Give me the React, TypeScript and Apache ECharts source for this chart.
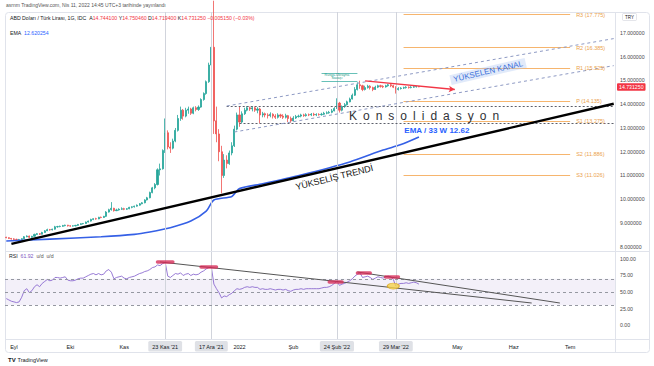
import { useEffect, useRef } from 'react';
import * as echarts from 'echarts';

// ---------- categories (weekday bars) ----------
const FIRST_DAY = '2021-08-27';
const BAR_COUNT = 238;
function weekdays(start: string, n: number): string[] {
  const out: string[] = [];
  const d = new Date(start + 'T00:00:00Z');
  while (out.length < n) {
    const wd = d.getUTCDay();
    if (wd !== 0 && wd !== 6) out.push(d.toISOString().slice(0, 10));
    d.setUTCDate(d.getUTCDate() + 1);
  }
  return out;
}
const dates = weekdays(FIRST_DAY, BAR_COUNT);

// ---------- daily candles [open, high, low, close] ----------
const ohlc: number[][] = [
  [8.40, 8.42, 8.36, 8.38], [8.38, 8.40, 8.33, 8.35], [8.35, 8.37, 8.30, 8.33], [8.33, 8.36, 8.29, 8.31], [8.31, 8.34, 8.28, 8.30],
  [8.30, 8.33, 8.27, 8.30], [8.30, 8.36, 8.29, 8.34], [8.34, 8.45, 8.33, 8.42], [8.42, 8.48, 8.40, 8.45], [8.45, 8.47, 8.37, 8.40],
  [8.40, 8.46, 8.38, 8.44], [8.44, 8.55, 8.43, 8.52], [8.52, 8.58, 8.50, 8.55], [8.55, 8.57, 8.50, 8.53], [8.53, 8.63, 8.52, 8.60],
  [8.60, 8.70, 8.59, 8.67], [8.67, 8.76, 8.66, 8.72], [8.72, 8.75, 8.68, 8.71], [8.71, 8.76, 8.69, 8.74], [8.74, 8.88, 8.72, 8.84],
  [8.84, 8.88, 8.80, 8.85], [8.85, 8.89, 8.82, 8.86], [8.86, 8.92, 8.84, 8.89], [8.89, 8.93, 8.86, 8.91], [8.91, 8.92, 8.85, 8.88],
  [8.88, 8.90, 8.84, 8.87], [8.87, 8.90, 8.85, 8.88], [8.88, 8.92, 8.86, 8.90], [8.90, 8.96, 8.88, 8.94], [8.94, 8.99, 8.92, 8.97],
  [8.97, 9.00, 8.94, 8.98], [8.98, 9.06, 8.97, 9.04], [9.04, 9.10, 9.02, 9.08], [9.08, 9.18, 9.06, 9.15], [9.15, 9.20, 9.12, 9.18],
  [9.18, 9.22, 9.14, 9.17], [9.17, 9.26, 9.16, 9.24], [9.24, 9.27, 9.20, 9.23], [9.23, 9.30, 9.21, 9.28], [9.28, 9.50, 9.25, 9.46],
  [9.46, 9.60, 9.44, 9.56], [9.56, 9.88, 9.52, 9.62], [9.62, 9.64, 9.48, 9.52], [9.52, 9.60, 9.50, 9.55], [9.55, 9.62, 9.52, 9.58],
  [9.58, 9.66, 9.55, 9.60], [9.60, 9.64, 9.54, 9.58], [9.58, 9.63, 9.55, 9.60], [9.60, 9.68, 9.58, 9.66], [9.66, 9.70, 9.62, 9.68],
  [9.68, 9.73, 9.65, 9.71], [9.71, 9.78, 9.69, 9.75], [9.75, 9.84, 9.73, 9.81], [9.81, 9.88, 9.79, 9.85], [9.85, 10.00, 9.83, 9.97],
  [9.97, 10.10, 9.95, 10.06], [10.06, 10.32, 10.04, 10.28], [10.28, 10.52, 10.25, 10.48], [10.48, 10.68, 10.42, 10.62], [10.62, 11.30, 10.58, 11.24],
  [11.24, 11.50, 11.00, 11.28], [11.28, 12.10, 11.25, 12.05], [12.05, 13.40, 11.95, 12.80], [12.80, 12.90, 12.10, 12.20], [12.20, 12.40, 11.95, 12.15],
  [12.15, 12.55, 12.10, 12.45], [12.45, 13.00, 12.40, 12.90], [12.90, 13.55, 12.85, 13.40], [13.40, 13.90, 13.30, 13.75], [13.75, 13.80, 13.35, 13.50],
  [13.50, 13.85, 13.45, 13.75], [13.75, 13.90, 13.60, 13.80], [13.80, 13.85, 13.55, 13.62], [13.62, 13.90, 13.58, 13.85], [13.85, 13.92, 13.70, 13.78],
  [13.78, 13.95, 13.72, 13.88], [13.88, 14.25, 13.85, 14.20], [14.20, 14.50, 14.15, 14.45], [14.45, 15.00, 14.40, 14.95], [14.95, 15.75, 14.90, 15.65],
  [15.65, 17.15, 15.55, 16.40], [16.40, 18.36, 12.75, 13.30], [13.30, 13.90, 12.40, 12.75], [12.75, 12.95, 11.60, 12.00], [12.00, 12.25, 10.25, 11.00],
  [11.00, 11.90, 10.90, 11.65], [11.65, 11.85, 11.30, 11.50], [11.50, 12.05, 11.45, 11.95], [11.95, 12.40, 11.85, 12.25], [12.25, 13.10, 12.20, 12.95],
  [12.95, 13.65, 12.90, 13.55], [13.55, 13.90, 13.05, 13.25], [13.25, 13.70, 13.20, 13.60], [13.60, 13.85, 13.55, 13.75], [13.75, 13.92, 13.70, 13.85],
  [13.85, 13.90, 13.72, 13.80], [13.80, 13.92, 13.70, 13.85], [13.85, 13.90, 13.68, 13.75], [13.75, 13.88, 13.62, 13.80], [13.80, 13.85, 13.20, 13.55],
  [13.55, 13.68, 13.45, 13.60], [13.60, 13.65, 13.45, 13.55], [13.55, 13.62, 13.40, 13.52], [13.52, 13.66, 13.45, 13.58], [13.58, 13.62, 13.40, 13.50],
  [13.50, 13.58, 13.38, 13.45], [13.45, 13.62, 13.40, 13.55], [13.55, 13.60, 13.42, 13.50], [13.50, 13.58, 13.38, 13.45], [13.45, 13.60, 13.40, 13.52],
  [13.52, 13.55, 13.25, 13.40], [13.40, 13.48, 13.22, 13.30], [13.30, 13.50, 13.28, 13.42], [13.42, 13.55, 13.38, 13.48], [13.48, 13.56, 13.44, 13.50],
  [13.50, 13.60, 13.45, 13.55], [13.55, 13.60, 13.47, 13.52], [13.52, 13.62, 13.48, 13.56], [13.56, 13.61, 13.50, 13.55], [13.55, 13.63, 13.50, 13.58],
  [13.58, 13.64, 13.50, 13.55], [13.55, 13.62, 13.50, 13.57], [13.57, 13.62, 13.52, 13.56], [13.56, 13.64, 13.52, 13.58], [13.58, 13.68, 13.54, 13.62],
  [13.62, 13.70, 13.58, 13.64], [13.64, 13.72, 13.60, 13.66], [13.66, 13.80, 13.62, 13.72], [13.72, 13.88, 13.70, 13.82], [13.85, 14.25, 13.80, 14.05],
  [14.05, 14.10, 13.65, 13.75], [13.75, 13.95, 13.70, 13.90], [13.90, 14.05, 13.85, 13.98], [13.98, 14.15, 13.95, 14.10], [14.10, 14.28, 14.08, 14.22],
  [14.22, 14.45, 14.20, 14.38], [14.38, 14.72, 14.35, 14.62], [14.62, 14.92, 14.58, 14.82], [14.82, 14.99, 14.65, 14.78], [14.78, 14.82, 14.55, 14.62],
  [14.62, 14.78, 14.58, 14.70], [14.70, 14.82, 14.66, 14.76], [14.76, 14.80, 14.62, 14.70], [14.70, 14.74, 14.55, 14.62], [14.62, 14.78, 14.60, 14.72],
  [14.72, 14.82, 14.68, 14.78], [14.78, 14.82, 14.70, 14.75], [14.75, 14.80, 14.68, 14.73], [14.73, 14.82, 14.70, 14.78], [14.78, 14.86, 14.74, 14.82],
  [14.82, 14.85, 14.72, 14.78], [14.78, 14.82, 14.68, 14.72], [14.72, 14.76, 14.45, 14.62], [14.62, 14.72, 14.58, 14.66], [14.66, 14.72, 14.62, 14.68],
  [14.68, 14.74, 14.64, 14.70], [14.70, 14.76, 14.66, 14.72], [14.72, 14.75, 14.66, 14.70], [14.70, 14.76, 14.67, 14.72], [14.72, 14.78, 14.69, 14.74],
  [14.74, 14.77, 14.70, 14.7441], [14.7441, 14.75046, 14.7194, 14.73125],
];

// ---------- RSI (14) ----------
const rsi: number[] = [
  40, 38, 36, 35, 34, 35, 42, 52, 55, 49,
  52, 58, 61, 58, 63, 66, 69, 67, 68, 72,
  72, 71, 72, 73, 68, 67, 67, 68, 70, 71,
  71, 73, 75, 77, 78, 76, 78, 76, 77, 82,
  84, 80, 70, 72, 73, 74, 71, 70, 72, 73,
  74, 76, 78, 79, 81, 82, 84, 87, 88, 91,
  90, 93, 95, 74, 72, 75, 78, 77, 79, 75,
  77, 78, 75, 77, 76, 77, 80, 82, 85, 87,
  88, 62, 55, 49, 41, 44, 43, 46, 48, 52,
  55, 54, 55, 57, 58, 57, 58, 57, 57, 54,
  55, 54, 54, 55, 54, 53, 54, 54, 53, 54,
  52, 51, 53, 54, 54, 55, 54, 55, 55, 55,
  55, 55, 55, 56, 57, 57, 58, 60, 63, 66,
  60, 62, 63, 65, 67, 70, 74, 77, 79, 72,
  73, 74, 72, 69, 71, 73, 72, 71, 73, 74,
  73, 69, 59, 62, 63, 63, 64, 63, 64, 65,
  64, 61.92,
];

// ---------- EMA 33W ----------
const emaDates = ['2021-08-27', '2021-09-21', '2021-10-19', '2021-11-05', '2021-11-15', '2021-11-25', '2021-12-07', '2021-12-15', '2021-12-20', '2021-12-29', '2022-01-03', '2022-01-14', '2022-02-04', '2022-03-03', '2022-03-22', '2022-03-31', '2022-04-11'];
const emaValues = [8.24, 8.32, 8.42, 8.52, 8.62, 8.80, 9.08, 9.50, 9.97, 10.12, 10.45, 10.65, 11.02, 11.57, 12.07, 12.30, 12.62];

// ---------- pivots ----------
const pivotNames = ['R3', 'R2', 'R1', 'P', 'S1', 'S2', 'S3'];
const pivotValues = [17.775, 16.385, 15.525, 14.135, 13.275, 11.886, 11.026];
const pivotSpan = ['2022-04-01', '2022-07-01'];

// ---------- drawings ----------
const trendDates = ['2021-08-31', '2022-07-26'];
const trendValues = [8.12, 14.02];
const channelUpperDates = ['2021-12-27', '2022-07-26'];
const channelUpperValues = [13.926, 16.764];
const channelLowerDates = ['2021-12-30', '2022-07-26'];
const channelLowerValues = [12.832, 15.625];
const consolTopDates = ['2021-12-27', '2022-07-26'];
const consolTopValue = 13.905;
const consolBottomDates = ['2022-01-03', '2022-07-26'];
const consolBottomValue = 13.21;
const arrowDates = ['2022-03-11', '2022-04-29'];
const arrowValues = [14.98, 14.62];
const newsBoxDates = ['2022-02-16', '2022-03-08'];
const newsBoxValues = [15.316, 14.979];
const verticalDates = ['2021-11-23', '2021-12-17', '2022-02-24', '2022-03-29'];
const lastClose = 14.73125;

const rsiLineADates = ['2021-11-19', '2022-06-10'];
const rsiLineAValues = [95.5, 33.3];
const rsiLineBDates = ['2022-03-08', '2022-06-27'];
const rsiLineBValues = [80.3, 33.3];
const rsiMarkStarts = ['2021-11-18', '2021-12-13', '2022-02-21', '2022-03-08', '2022-03-23'];
const rsiMarkEnds = ['2021-11-26', '2021-12-21', '2022-02-28', '2022-03-15', '2022-03-30'];
const rsiMarkLevels = [95.5, 87.9, 65.2, 78.8, 72.7];
const rsiEllipseDate = '2022-03-28';
const rsiEllipseValue = 59;
const rsiLevels = [70, 50, 30];

// ---------- axis ticks / labels ----------
const priceTicks = [8, 9, 10, 11, 12, 13, 14, 15, 16, 17];
const rsiTicks = [0, 25, 50, 75, 100];
const labelDates = ['2021-09-01', '2021-10-01', '2021-11-01', '2021-11-23', '2021-12-17', '2022-01-03', '2022-02-01', '2022-02-24', '2022-03-29', '2022-05-02', '2022-06-01', '2022-07-01'];
const labelTexts = ['Eyl', 'Eki', 'Kas', "23 Kas '21", "17 Ara '21", '2022', 'Şub', "24 Şub '22", "29 Mar '22", 'May', 'Haz', 'Tem'];
const labelHighlighted = [false, false, false, true, true, false, false, true, true, false, false, false];

const FONT = '"Liberation Sans", Arial, sans-serif';
const idx = (d: string) => dates.indexOf(d);

function seg(d0: string, v0: number, d1: string, v1: number, lineStyle: any, extra0: any = {}, extra1: any = {}) {
  return [{ coord: [idx(d0), v0], lineStyle, ...extra0 }, { coord: [idx(d1), v1], ...extra1 }];
}

function textPoint(d: string, v: number, label: any) {
  return {
    coord: [idx(d), v],
    symbol: 'rect',
    symbolSize: 1,
    itemStyle: { color: 'rgba(0,0,0,0)' },
    label: { show: true, position: 'inside', fontFamily: FONT, ...label },
  };
}

function buildOption(): any {
  const candleData = ohlc.map(([o, h, l, c]) => [o, c, l, h]);
  const emaData = emaDates.map((d, i) => [idx(d), emaValues[i]]);
  const vLine = { color: '#d1d4dc', width: 1, type: 'solid' };
  const channelStyle = { color: '#8e9ac4', width: 1, type: [3, 3] };
  const consolStyle = { color: '#5d606b', width: 1, type: [2, 2] };

  const mainLines: any[] = [
    ...verticalDates.map((d) => ({ xAxis: idx(d), lineStyle: vLine })),
    ...pivotValues.map((v, i) =>
      seg(pivotSpan[0], v, pivotSpan[1], v, { color: '#f6b56e', width: 1, type: 'solid' }, {
        label: {
          show: true, position: 'end', distance: 6, formatter: `${pivotNames[i]} (${v.toFixed(3)})`,
          color: '#eba24c', fontSize: 5.5, fontFamily: FONT,
        },
      })),
    seg(consolTopDates[0], consolTopValue, consolTopDates[1], consolTopValue, consolStyle),
    seg(consolBottomDates[0], consolBottomValue, consolBottomDates[1], consolBottomValue, consolStyle),
    seg(channelUpperDates[0], channelUpperValues[0], channelUpperDates[1], channelUpperValues[1], channelStyle),
    seg(channelLowerDates[0], channelLowerValues[0], channelLowerDates[1], channelLowerValues[1], channelStyle),
    seg(trendDates[0], trendValues[0], trendDates[1], trendValues[1], { color: '#000', width: 2.4, type: 'solid' }),
    seg(arrowDates[0], arrowValues[0], arrowDates[1], arrowValues[1], { color: '#f23645', width: 1.3, type: 'solid' }, {}, { symbol: 'arrow', symbolSize: [5, 6] }),
    seg(newsBoxDates[0], newsBoxValues[0], newsBoxDates[1], newsBoxValues[0], { color: '#26a69a', width: 0.7, type: 'solid' }),
    seg(newsBoxDates[0], newsBoxValues[1], newsBoxDates[1], newsBoxValues[1], { color: '#26a69a', width: 0.7, type: 'solid' }),
    {
      yAxis: lastClose, lineStyle: { color: 'rgba(0,0,0,0)', width: 0 },
      label: {
        show: true, position: 'end', distance: 2, formatter: lastClose.toFixed(6), color: '#ffffff', opacity: 1,
        backgroundColor: '#f23645', padding: [1.5, 2, 1, 2], fontSize: 5.2, fontFamily: FONT, borderRadius: 1,
      },
    },
  ];

  const rsiLines: any[] = [
    ...verticalDates.map((d) => ({ xAxis: idx(d), lineStyle: vLine })),
    ...rsiLevels.map((v) => ({ yAxis: v, lineStyle: { color: '#9598a1', width: 1, type: [3, 3] } })),
    seg(rsiLineADates[0], rsiLineAValues[0], rsiLineADates[1], rsiLineAValues[1], { color: '#555', width: 1, type: 'solid' }),
    seg(rsiLineBDates[0], rsiLineBValues[0], rsiLineBDates[1], rsiLineBValues[1], { color: '#555', width: 1, type: 'solid' }),
    ...rsiMarkStarts.map((d, i) =>
      seg(d, rsiMarkLevels[i], rsiMarkEnds[i], rsiMarkLevels[i], { color: 'rgba(214,41,86,0.78)', width: 3.5, type: 'solid', cap: 'round' })),
  ];

  return {
    animation: false,
    backgroundColor: '#ffffff',
    textStyle: { fontFamily: FONT },
    grid: [
      { left: 5, right: 39, top: 12, height: 239, outerBoundsMode: 'none' },
      { left: 5, right: 39, top: 252, height: 87, outerBoundsMode: 'none' },
    ],
    xAxis: [
      {
        type: 'category', gridIndex: 0, data: dates, boundaryGap: true,
        axisLine: { show: false }, axisTick: { show: false }, axisLabel: { show: false }, splitLine: { show: false },
      },
      {
        type: 'category', gridIndex: 1, data: dates, boundaryGap: true,
        axisLine: { show: false }, axisTick: { show: false }, splitLine: { show: false },
        axisLabel: {
          show: true, margin: 2, hideOverlap: false,
          interval: (_i: number, v: string) => labelDates.includes(v),
          formatter: (v: string) => {
            const i = labelDates.indexOf(v);
            if (i < 0) return '';
            return labelHighlighted[i] ? `{h|${labelTexts[i]}}` : `{n|${labelTexts[i]}}`;
          },
          rich: {
            h: { backgroundColor: '#dfe1e6', padding: [2.5, 4, 2, 4], color: '#131722', fontSize: 5.5, fontFamily: FONT, borderRadius: 1.5 },
            n: { padding: [2.5, 4, 2, 4], color: '#131722', fontSize: 5.5, fontFamily: FONT },
          },
        },
      },
    ],
    yAxis: [
      {
        type: 'value', gridIndex: 0, position: 'right', min: 7.821, max: 17.884, scale: true,
        axisLine: { show: false }, axisTick: { show: false }, splitLine: { show: false },
        axisLabel: {
          show: true, customValues: priceTicks, margin: 5, fontSize: 5.2, color: '#4a4a4a', fontFamily: FONT,
          formatter: (v: number) => v.toFixed(6),
        },
      },
      {
        type: 'value', gridIndex: 1, position: 'right', min: -21.2, max: 110.6,
        axisLine: { show: false }, axisTick: { show: false }, splitLine: { show: false },
        axisLabel: {
          show: true, customValues: rsiTicks, margin: 5, fontSize: 5.2, color: '#4a4a4a', fontFamily: FONT,
          formatter: (v: number) => v.toFixed(2),
        },
      },
    ],
    series: [
      {
        type: 'candlestick', name: 'USDTRY', xAxisIndex: 0, yAxisIndex: 0, data: candleData, barWidth: '62%',
        itemStyle: { color: '#26a69a', color0: '#ef5350', borderColor: '#26a69a', borderColor0: '#ef5350', borderWidth: 0.8 },
        markLine: { silent: true, symbol: ['none', 'none'], label: { show: false }, data: mainLines, animation: false },
        markPoint: {
          silent: true, animation: false,
          data: [
            textPoint('2022-04-13', 13.505, { formatter: 'K\u2002o\u2002n\u2002s\u2002o\u2002l\u2002i\u2002d\u2002a\u2002s\u2002y\u2002o\u2002n', color: '#2f3136', fontSize: 12 }),
            textPoint('2022-04-20', 12.874, { formatter: 'EMA / 33 W 12.62', color: '#2962ff', fontSize: 8, fontWeight: 'bold' }),
            textPoint('2022-02-23', 10.916, { formatter: 'YÜKSELİŞ TRENDİ', color: '#111', fontSize: 9, rotate: 14, fontFamily: '"Liberation Sans Narrow", "Liberation Sans", Arial, sans-serif' }),
            textPoint('2022-05-18', 15.379, { formatter: 'YÜKSELEN KANAL', color: '#3b6fd9', fontSize: 8, rotate: 13, backgroundColor: 'rgba(170,195,240,0.35)', padding: [1, 3] }),
            textPoint('2022-02-24', 15.168, { formatter: 'Rusya-Ukrayna\nSavaşı', color: '#1e9b8a', fontSize: 3.6, lineHeight: 3.8 }),
          ],
        },
        z: 3,
      },
      {
        type: 'line', name: 'EMA', xAxisIndex: 0, yAxisIndex: 0, data: emaData, showSymbol: false, smooth: 0.25,
        lineStyle: { color: '#3560e6', width: 1.6 }, z: 4,
      },
      {
        type: 'line', name: 'RSI', xAxisIndex: 1, yAxisIndex: 1, data: rsi, showSymbol: false,
        lineStyle: { color: '#8c6bd0', width: 0.9 },
        markArea: { silent: true, itemStyle: { color: 'rgba(126,87,194,0.09)' }, data: [[{ yAxis: 30 }, { yAxis: 70 }]] },
        markLine: { silent: true, symbol: ['none', 'none'], label: { show: false }, data: rsiLines, animation: false },
      },
      {
        type: 'scatter', name: 'mark', xAxisIndex: 1, yAxisIndex: 1, data: [[idx(rsiEllipseDate), rsiEllipseValue]],
        symbol: 'circle', symbolSize: [12, 6], itemStyle: { color: '#f5d24a', borderColor: '#d9a21b', borderWidth: 0.8 }, z: 5,
      },
    ],
    graphic: [
      { type: 'rect', silent: true, z: -1, shape: { x: 5.5, y: 12.5, width: 644, height: 340, r: 3 }, style: { fill: 'none', stroke: '#e0e3eb', lineWidth: 1 } },
      { type: 'line', silent: true, z: -1, shape: { x1: 615.5, y1: 12.5, x2: 615.5, y2: 352.5 }, style: { stroke: '#e0e3eb', lineWidth: 1 } },
      { type: 'line', silent: true, z: -1, shape: { x1: 5.5, y1: 251.5, x2: 649.5, y2: 251.5 }, style: { stroke: '#e0e3eb', lineWidth: 1 } },
      { type: 'line', silent: true, z: -1, shape: { x1: 5.5, y1: 339.5, x2: 649.5, y2: 339.5 }, style: { stroke: '#e0e3eb', lineWidth: 1 } },
      { type: 'text', silent: true, x: 6, y: 2.5, style: { text: 'asrnm TradingView.com, Nis 11, 2022 14:45 UTC+3 tarihinde yayınlandı', fill: '#555', fontSize: 5, fontFamily: FONT, verticalAlign: 'top' } },
      {
        type: 'text', silent: true, x: 10, y: 15.5, z: 10,
        style: {
          text: '{t|ABD Doları / Türk Lirası, 1G, IDC}  {t|A}{r|14.744100} {t|Y}{r|14.750460} {t|D}{r|14.719400} {t|K}{r|14.731250} {r|−0.005150 (−0.03%)}',
          fontSize: 5.2, fontFamily: FONT, verticalAlign: 'top',
          rich: { t: { fill: '#131722', fontSize: 5.2, fontFamily: FONT }, r: { fill: '#f23645', fontSize: 5.2, fontFamily: FONT } },
        },
      },
      {
        type: 'text', silent: true, x: 10, y: 30.5, z: 10,
        style: {
          text: '{t|EMA}  {b|12.620254}', fontSize: 5.2, fontFamily: FONT, verticalAlign: 'top',
          rich: { t: { fill: '#131722', fontSize: 5.2, fontFamily: FONT }, b: { fill: '#2962ff', fontSize: 5.2, fontFamily: FONT } },
        },
      },
      {
        type: 'text', silent: true, x: 9, y: 253, z: 10,
        style: {
          text: '{t|RSI}  {p|61.92}  {g|u/d}  {g|u/d}', fontSize: 5.2, fontFamily: FONT, verticalAlign: 'top',
          rich: { t: { fill: '#131722', fontSize: 5.2, fontFamily: FONT }, p: { fill: '#7e57c2', fontSize: 5.2, fontFamily: FONT }, g: { fill: '#555', fontSize: 5.2, fontFamily: FONT } },
        },
      },
      { type: 'rect', silent: true, z: 10, shape: { x: 622.5, y: 13.5, width: 14, height: 7, r: 1 }, style: { fill: '#fff', stroke: '#d1d4dc', lineWidth: 0.6 } },
      { type: 'text', silent: true, z: 11, x: 629.5, y: 17, style: { text: 'TRY', fill: '#131722', fontSize: 4.5, fontFamily: FONT, align: 'center', verticalAlign: 'middle' } },
      { type: 'text', silent: true, x: 8, y: 360, style: { text: 'TV', fill: '#131722', fontSize: 6, fontWeight: 'bold', fontFamily: FONT, verticalAlign: 'middle' } },
      { type: 'text', silent: true, x: 17.5, y: 360, style: { text: 'TradingView', fill: '#131722', fontSize: 5.5, fontFamily: FONT, verticalAlign: 'middle' } },
    ],
  };
}

export default function App() {
  const ref = useRef<HTMLDivElement>(null);
  useEffect(() => {
    document.body.style.margin = '0';
    const chart = echarts.init(ref.current!, null, { renderer: 'svg' });
    chart.setOption(buildOption());
    return () => chart.dispose();
  }, []);
  return <div ref={ref} style={{ width: 654, height: 366, background: '#fff' }} />;
}
